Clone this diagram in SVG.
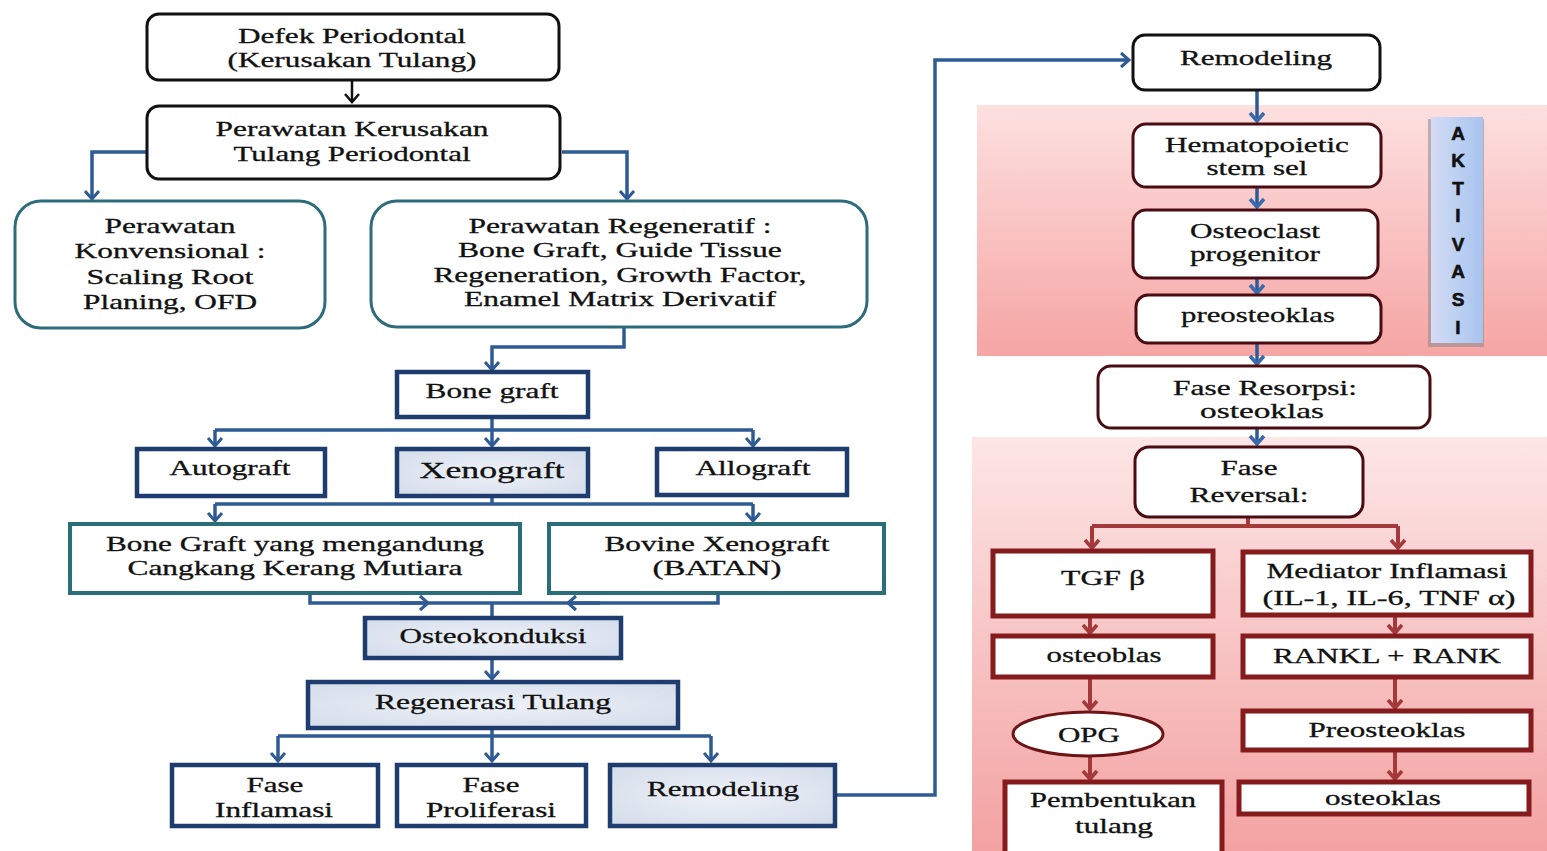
<svg xmlns="http://www.w3.org/2000/svg" width="1547" height="851" viewBox="0 0 1547 851">
<style>
text{font-family:"Liberation Serif","Times New Roman",serif;font-size:21px;fill:#111;stroke:#111;stroke-width:0.3;text-anchor:middle}
.s{transform:scale(1.3,1)}
.blk{fill:#fff;stroke:#111;stroke-width:3}
.teal{fill:#fff;stroke:#2e6c7c;stroke-width:3}
.navy{fill:#fff;stroke:#1f3c6e;stroke-width:4.5}
.navyf{fill:url(#gFill);stroke:#1f3c6e;stroke-width:4.5}
.tealr{fill:#fff;stroke:#2a6e7a;stroke-width:4}
.mar{fill:#fff;stroke:#4a0c12;stroke-width:3}
.red{fill:#fff;stroke:#861b1d;stroke-width:5}
.cb{fill:none;stroke:#2e5b94;stroke-width:3.5}
.ck{fill:none;stroke:#111;stroke-width:2.5}
.cr{fill:none;stroke:#a3393a;stroke-width:4}
.akt{font-family:"Liberation Sans",Arial,sans-serif;font-weight:bold;font-size:19px;fill:#111;stroke-width:0.6}
</style>
<defs>
<linearGradient id="gBand1" x1="0" y1="0" x2="0" y2="1"><stop offset="0" stop-color="#fde0e0"/><stop offset="1" stop-color="#f5a5a4"/></linearGradient>
<linearGradient id="gBand2" x1="0" y1="0" x2="0" y2="1"><stop offset="0" stop-color="#fde6e6"/><stop offset="1" stop-color="#f3a2a2"/></linearGradient>
<radialGradient id="gFill" cx="0.5" cy="0.5" r="0.7"><stop offset="0" stop-color="#eef2f8"/><stop offset="1" stop-color="#d3dcea"/></radialGradient>
<linearGradient id="gAkt" x1="0" y1="0" x2="1" y2="0"><stop offset="0" stop-color="#d6dcf6"/><stop offset="0.5" stop-color="#bcd0f2"/><stop offset="1" stop-color="#a9c3ee"/></linearGradient>
<marker id="mB" markerUnits="userSpaceOnUse" markerWidth="16" markerHeight="16" refX="9" refY="7" orient="auto" overflow="visible"><path d="M1,0 L9,7 L1,14" fill="none" stroke="#2e5b94" stroke-width="3"/></marker>
<marker id="mK" markerUnits="userSpaceOnUse" markerWidth="16" markerHeight="16" refX="9" refY="7" orient="auto" overflow="visible"><path d="M1,0 L9,7 L1,14" fill="none" stroke="#111" stroke-width="2.5"/></marker>
<marker id="mR" markerUnits="userSpaceOnUse" markerWidth="16" markerHeight="16" refX="9" refY="7" orient="auto" overflow="visible"><path d="M1,0 L9,7 L1,14" fill="none" stroke="#a3393a" stroke-width="3.5"/></marker>
<marker id="mL" markerUnits="userSpaceOnUse" markerWidth="16" markerHeight="16" refX="9" refY="7" orient="auto" overflow="visible"><path d="M1,0 L9,7 L1,14" fill="none" stroke="#3a6aae" stroke-width="3.5"/></marker>
</defs>
<rect width="1547" height="851" fill="#fff"/>
<rect x="977" y="105" width="570" height="251" fill="url(#gBand1)"/>
<rect x="972" y="437" width="575" height="414" fill="url(#gBand2)"/>

<g id="connectors">
<path class="ck" d="M352,80 V102" marker-end="url(#mK)"/>
<path class="cb" d="M147,152 H92 V199" marker-end="url(#mB)"/>
<path class="cb" d="M562,152 H627 V199" marker-end="url(#mB)"/>
<path class="cb" d="M624,328 V347 H492 V370" marker-end="url(#mB)"/>
<path class="cb" d="M492,418 V430 M215,430 H753"/>
<path class="cb" d="M215,430 V446" marker-end="url(#mB)"/>
<path class="cb" d="M492,430 V446" marker-end="url(#mB)"/>
<path class="cb" d="M753,430 V446" marker-end="url(#mB)"/>
<path class="cb" d="M492,497 V504 M215,504 H753"/>
<path class="cb" d="M215,504 V521" marker-end="url(#mB)"/>
<path class="cb" d="M753,504 V521" marker-end="url(#mB)"/>
<path class="cb" d="M310,593 V603 H718 V593 M492,603 V617"/>
<path class="cb" d="M400,603 H428" marker-end="url(#mB)"/>
<path class="cb" d="M600,603 H568" marker-end="url(#mB)"/>
<path class="cb" d="M492,658 V679" marker-end="url(#mB)"/>
<path class="cb" d="M492,728 V736 M278,736 H711"/>
<path class="cb" d="M278,736 V761" marker-end="url(#mB)"/>
<path class="cb" d="M492,736 V761" marker-end="url(#mB)"/>
<path class="cb" d="M711,736 V761" marker-end="url(#mB)"/>
<path class="cb" d="M836,795 H935 V60 H1129" marker-end="url(#mB)"/>
<path class="cb" d="M1257,90 V121" stroke="#3a6aae" marker-end="url(#mL)"/>
<path class="cb" d="M1257,188 V207" stroke="#3a6aae" marker-end="url(#mL)"/>
<path class="cb" d="M1257,278 V293" stroke="#3a6aae" marker-end="url(#mL)"/>
<path class="cb" d="M1257,343 V364" stroke="#3a6aae" marker-end="url(#mL)"/>
<path class="cb" d="M1257,428 V444" stroke="#3a6aae" marker-end="url(#mL)"/>
<path class="cr" d="M1248,517 V526 M1092,526 H1398"/>
<path class="cr" d="M1092,526 V548" marker-end="url(#mR)"/>
<path class="cr" d="M1398,526 V548" marker-end="url(#mR)"/>
<path class="cr" d="M1090,616 V633" marker-end="url(#mR)"/>
<path class="cr" d="M1395,615 V633" marker-end="url(#mR)"/>
<path class="cr" d="M1090,677 V709" marker-end="url(#mR)"/>
<path class="cr" d="M1395,677 V708" marker-end="url(#mR)"/>
<path class="cr" d="M1090,756 V779" marker-end="url(#mR)"/>
<path class="cr" d="M1395,750 V779" marker-end="url(#mR)"/>
</g>

<g id="n-defek"><rect class="blk" x="147" y="14" width="412" height="66" rx="12"/>
<text class="s" x="270.8" y="43" textLength="175.4" lengthAdjust="spacingAndGlyphs">Defek Periodontal</text>
<text class="s" x="270.8" y="67" textLength="191.5" lengthAdjust="spacingAndGlyphs">(Kerusakan Tulang)</text></g>
<g id="n-perawatan"><rect class="blk" x="147" y="106" width="413" height="73" rx="12"/>
<text class="s" x="270.8" y="136" textLength="210" lengthAdjust="spacingAndGlyphs">Perawatan Kerusakan</text>
<text class="s" x="270.8" y="161" textLength="182.3" lengthAdjust="spacingAndGlyphs">Tulang Periodontal</text></g>
<g id="n-konv"><rect class="teal" x="15" y="201" width="310" height="127" rx="26"/>
<text class="s" x="130.8" y="233" textLength="100.8" lengthAdjust="spacingAndGlyphs">Perawatan</text>
<text class="s" x="130.8" y="258" textLength="146.9" lengthAdjust="spacingAndGlyphs">Konvensional :</text>
<text class="s" x="130.8" y="284" textLength="128.5" lengthAdjust="spacingAndGlyphs">Scaling Root</text>
<text class="s" x="130.8" y="309" textLength="133.8" lengthAdjust="spacingAndGlyphs">Planing, OFD</text></g>
<g id="n-regen"><rect class="teal" x="371" y="201" width="496" height="126" rx="26"/>
<text class="s" x="476.9" y="233" textLength="233.1" lengthAdjust="spacingAndGlyphs">Perawatan Regeneratif :</text>
<text class="s" x="476.9" y="257" textLength="249.2" lengthAdjust="spacingAndGlyphs">Bone Graft, Guide Tissue</text>
<text class="s" x="476.9" y="282" textLength="286.9" lengthAdjust="spacingAndGlyphs">Regeneration, Growth Factor,</text>
<text class="s" x="476.9" y="306" textLength="240" lengthAdjust="spacingAndGlyphs">Enamel Matrix Derivatif</text></g>
<g id="n-bonegraft"><rect class="navy" x="397" y="372" width="191" height="45"/>
<text class="s" x="378.5" y="398" textLength="102.3" lengthAdjust="spacingAndGlyphs">Bone graft</text></g>
<g id="n-auto"><rect class="navy" x="137" y="449" width="188" height="47"/>
<text class="s" x="176.9" y="475" textLength="93.1" lengthAdjust="spacingAndGlyphs">Autograft</text></g>
<g id="n-xeno"><rect class="navyf" x="397" y="449" width="191" height="47"/>
<text class="s" x="378.5" y="478" style="font-size:24px" textLength="111.5" lengthAdjust="spacingAndGlyphs">Xenograft</text></g>
<g id="n-allo"><rect class="navy" x="657" y="449" width="190" height="46"/>
<text class="s" x="579.2" y="475" textLength="88.5" lengthAdjust="spacingAndGlyphs">Allograft</text></g>
<g id="n-kerang"><rect class="tealr" x="70" y="524" width="450" height="69"/>
<text class="s" x="226.9" y="551" textLength="290.8" lengthAdjust="spacingAndGlyphs">Bone Graft yang mengandung</text>
<text class="s" x="226.9" y="575" textLength="257.7" lengthAdjust="spacingAndGlyphs">Cangkang Kerang Mutiara</text></g>
<g id="n-bovine"><rect class="tealr" x="549" y="524" width="335" height="69"/>
<text class="s" x="551.5" y="551" textLength="173.1" lengthAdjust="spacingAndGlyphs">Bovine Xenograft</text>
<text class="s" x="551.5" y="575" textLength="99.2" lengthAdjust="spacingAndGlyphs">(BATAN)</text></g>
<g id="n-osteokond"><rect class="navyf" x="365" y="618" width="256" height="40"/>
<text class="s" x="379.2" y="643" textLength="143.8" lengthAdjust="spacingAndGlyphs">Osteokonduksi</text></g>
<g id="n-regenerasi"><rect class="navyf" x="308" y="682" width="370" height="46"/>
<text class="s" x="379.2" y="709" textLength="181.5" lengthAdjust="spacingAndGlyphs">Regenerasi Tulang</text></g>
<g id="n-inflamasi"><rect class="navy" x="172" y="765" width="206" height="61"/>
<text class="s" x="211.5" y="792" textLength="43.8" lengthAdjust="spacingAndGlyphs">Fase</text>
<text class="s" x="210.8" y="817" textLength="90.8" lengthAdjust="spacingAndGlyphs">Inflamasi</text></g>
<g id="n-proliferasi"><rect class="navy" x="397" y="765" width="189" height="61"/>
<text class="s" x="377.7" y="792" textLength="43.8" lengthAdjust="spacingAndGlyphs">Fase</text>
<text class="s" x="377.7" y="817" textLength="100" lengthAdjust="spacingAndGlyphs">Proliferasi</text></g>
<g id="n-remodel1"><rect class="navyf" x="610" y="765" width="225" height="61"/>
<text class="s" x="556.2" y="796" textLength="116.9" lengthAdjust="spacingAndGlyphs">Remodeling</text></g>

<g id="n-remodel2"><rect class="blk" x="1133" y="35" width="247" height="55" rx="12"/>
<text class="s" x="966.2" y="65" textLength="116.9" lengthAdjust="spacingAndGlyphs">Remodeling</text></g>
<g id="n-hemato"><rect class="mar" x="1133" y="124" width="248" height="63" rx="13"/>
<text class="s" x="966.9" y="152" textLength="141.5" lengthAdjust="spacingAndGlyphs">Hematopoietic</text>
<text class="s" x="966.9" y="175" textLength="77.7" lengthAdjust="spacingAndGlyphs">stem sel</text></g>
<g id="n-ocprog"><rect class="mar" x="1133" y="210" width="245" height="68" rx="13"/>
<text class="s" x="965.4" y="238" textLength="100" lengthAdjust="spacingAndGlyphs">Osteoclast</text>
<text class="s" x="965.4" y="261" textLength="100" lengthAdjust="spacingAndGlyphs">progenitor</text></g>
<g id="n-preo1"><rect class="mar" x="1136" y="295" width="245" height="48" rx="12"/>
<text class="s" x="967.7" y="322" textLength="118.5" lengthAdjust="spacingAndGlyphs">preosteoklas</text></g>
<g id="n-aktivasi">
<rect x="1428" y="119" width="56" height="228" fill="#8a8a8a" opacity="0.55"/>
<rect x="1431" y="117" width="52" height="226" fill="url(#gAkt)"/>
<text class="akt" x="1458" y="140">A</text>
<text class="akt" x="1458" y="167">K</text>
<text class="akt" x="1458" y="195">T</text>
<text class="akt" x="1458" y="222">I</text>
<text class="akt" x="1458" y="251">V</text>
<text class="akt" x="1458" y="278">A</text>
<text class="akt" x="1458" y="306">S</text>
<text class="akt" x="1458" y="334">I</text></g>
<g id="n-resorpsi"><rect class="mar" x="1098" y="366" width="332" height="62" rx="13"/>
<text class="s" x="973.1" y="395" textLength="141.5" lengthAdjust="spacingAndGlyphs">Fase Resorpsi:</text>
<text class="s" x="970.8" y="418" textLength="95.4" lengthAdjust="spacingAndGlyphs">osteoklas</text></g>
<g id="n-reversal"><rect class="mar" x="1135" y="447" width="228" height="70" rx="14"/>
<text class="s" x="960.8" y="475" textLength="43.8" lengthAdjust="spacingAndGlyphs">Fase</text>
<text class="s" x="960.8" y="502" textLength="91.5" lengthAdjust="spacingAndGlyphs">Reversal:</text></g>
<g id="n-tgf"><rect class="red" x="993" y="551" width="220" height="65"/>
<text class="s" x="848.5" y="585" textLength="64.6" lengthAdjust="spacingAndGlyphs">TGF β</text></g>
<g id="n-mediator"><rect class="red" x="1243" y="552" width="288" height="63"/>
<text class="s" x="1066.9" y="578" textLength="185.4" lengthAdjust="spacingAndGlyphs">Mediator Inflamasi</text>
<text class="s" x="1068.5" y="605" textLength="194.6" lengthAdjust="spacingAndGlyphs">(IL-1, IL-6, TNF α)</text></g>
<g id="n-osteoblas"><rect class="red" x="993" y="636" width="220" height="41"/>
<text class="s" x="849.2" y="662" textLength="88.5" lengthAdjust="spacingAndGlyphs">osteoblas</text></g>
<g id="n-rankl"><rect class="red" x="1243" y="636" width="288" height="41"/>
<text class="s" x="1066.9" y="663" textLength="175.4" lengthAdjust="spacingAndGlyphs">RANKL + RANK</text></g>
<g id="n-opg"><ellipse cx="1088" cy="734" rx="75" ry="22" fill="#fff" stroke="#6e1416" stroke-width="3"/>
<text class="s" x="837.7" y="742" textLength="47.7" lengthAdjust="spacingAndGlyphs">OPG</text></g>
<g id="n-preo2"><rect class="red" x="1243" y="711" width="288" height="39"/>
<text class="s" x="1066.9" y="737" textLength="120.8" lengthAdjust="spacingAndGlyphs">Preosteoklas</text></g>
<g id="n-pembentukan"><rect class="red" x="1005" y="782" width="217" height="72"/>
<text class="s" x="856.2" y="807" textLength="127.7" lengthAdjust="spacingAndGlyphs">Pembentukan</text>
<text class="s" x="856.9" y="833" textLength="60" lengthAdjust="spacingAndGlyphs">tulang</text></g>
<g id="n-osteoklas"><rect class="red" x="1239" y="782" width="290" height="32"/>
<text class="s" x="1063.8" y="805" textLength="89.2" lengthAdjust="spacingAndGlyphs">osteoklas</text></g>
</svg>
